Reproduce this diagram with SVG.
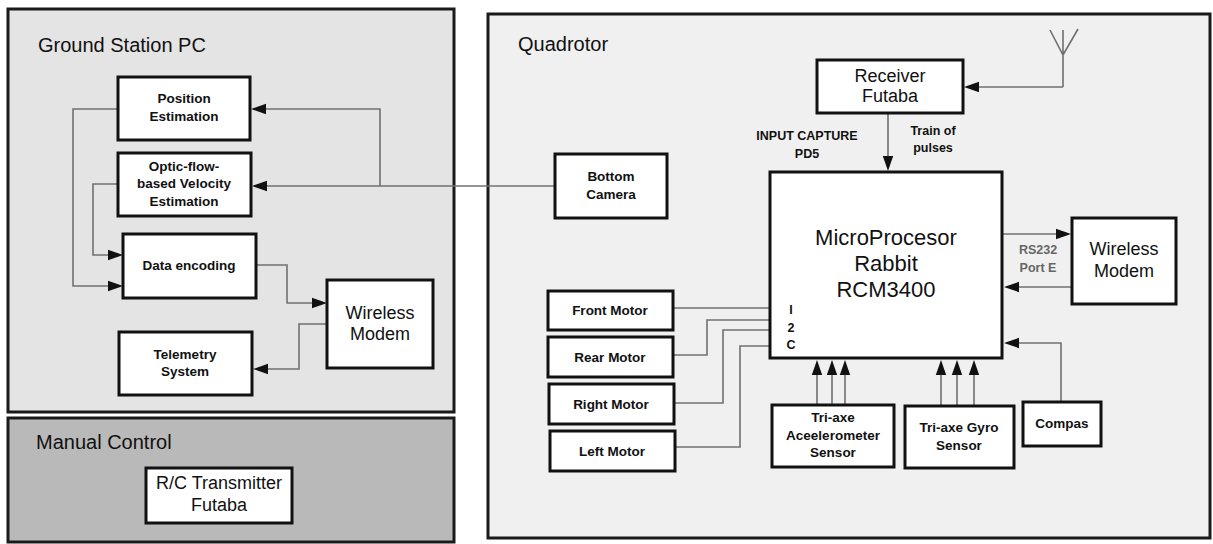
<svg xmlns="http://www.w3.org/2000/svg" width="1213" height="544" viewBox="0 0 1213 544">
<style>
.cont{stroke:#1a1a1a;stroke-width:3}
.box{fill:#fff;stroke:#111;stroke-width:3}
.t{font-family:"Liberation Sans",Arial,sans-serif;fill:#111;text-anchor:middle}
.title{font-family:"Liberation Sans",Arial,sans-serif;font-size:20px;fill:#111}
.b{font-weight:bold;font-size:13.5px}
.s{font-size:12.5px}
.n{font-size:18px}
.big{font-size:22px}
.gray{fill:#666}
.c{fill:none;stroke:#707070;stroke-width:1.6}
.ah{fill:#111}
</style>
<defs>
<path id="ah" class="ah" d="M0,0 L-15,-5.2 L-15,5.2 z"/>
</defs>

<g id="ground-station">
<rect class="cont" x="8" y="9" width="446" height="403" fill="#e4e4e4"/>
<text class="title" x="38" y="52">Ground Station PC</text>
</g>
<g id="manual-control">
<rect class="cont" x="8" y="418" width="446" height="124" fill="#b9b9b9"/>
<text class="title" x="36" y="449">Manual Control</text>
</g>
<g id="quadrotor">
<rect class="cont" x="488" y="14" width="722" height="524" fill="#f0f0f0"/>
<text class="title" x="518" y="51">Quadrotor</text>
</g>

<g id="connectors">
<path class="c" d="M555,186 H260"/>
<path class="c" d="M380,186 V109 H260"/>
<path class="c" d="M118,109 H73 V286 H115"/>
<path class="c" d="M118,184 H93 V255 H115"/>
<path class="c" d="M256,265 H287 V303 H318"/>
<path class="c" d="M327,324 H299 V369 H262"/>
<path class="c" d="M1050,30 L1063,55 L1078,29 M1063,30 V87"/>
<path class="c" d="M1063,87 H972"/>
<path class="c" d="M888,113 V162"/>
<path class="c" d="M1003,234 H1062"/>
<path class="c" d="M1072,287 H1012"/>
<path class="c" d="M1061,402 V343 H1012"/>
<path class="c" d="M941,406 V368"/>
<path class="c" d="M957,406 V368"/>
<path class="c" d="M974,406 V368"/>
<path class="c" d="M817,405 V368"/>
<path class="c" d="M832,405 V368"/>
<path class="c" d="M845,405 V368"/>
<path class="c" d="M673,308 H770"/>
<path class="c" d="M673,355 H707 V320 H770"/>
<path class="c" d="M674,403 H723 V330 H770"/>
<path class="c" d="M675,447 H740 V346 H770"/>
<use href="#ah" transform="translate(252,186) rotate(180)"/>
<use href="#ah" transform="translate(251,109) rotate(180)"/>
<use href="#ah" transform="translate(123,286)"/>
<use href="#ah" transform="translate(123,255)"/>
<use href="#ah" transform="translate(327,303)"/>
<use href="#ah" transform="translate(253,369) rotate(180)"/>
<use href="#ah" transform="translate(964,87) rotate(180)"/>
<use href="#ah" transform="translate(888,171) rotate(90)"/>
<use href="#ah" transform="translate(1071,234)"/>
<use href="#ah" transform="translate(1004,287) rotate(180)"/>
<use href="#ah" transform="translate(1004,343) rotate(180)"/>
<use href="#ah" transform="translate(941,360) rotate(-90)"/>
<use href="#ah" transform="translate(957,360) rotate(-90)"/>
<use href="#ah" transform="translate(974,360) rotate(-90)"/>
<use href="#ah" transform="translate(817,360) rotate(-90)"/>
<use href="#ah" transform="translate(832,360) rotate(-90)"/>
<use href="#ah" transform="translate(845,360) rotate(-90)"/>
</g>

<g id="position-estimation">
<rect class="box" x="118" y="77" width="132" height="63"/>
<text class="t b" x="184" y="103">Position</text>
<text class="t b" x="184" y="121">Estimation</text>
</g>
<g id="optic-flow">
<rect class="box" x="118" y="153" width="133" height="63"/>
<text class="t b" x="184" y="171">Optic-flow-</text>
<text class="t b" x="184" y="188">based Velocity</text>
<text class="t b" x="184" y="206">Estimation</text>
</g>
<g id="data-encoding">
<rect class="box" x="123" y="234" width="133" height="64"/>
<text class="t b" x="189" y="270">Data encoding</text>
</g>
<g id="telemetry">
<rect class="box" x="119" y="332" width="133" height="63"/>
<text class="t b" x="185" y="359">Telemetry</text>
<text class="t b" x="185" y="376">System</text>
</g>
<g id="wireless-modem-ground">
<rect class="box" x="327" y="280" width="106" height="88"/>
<text class="t n" x="380" y="319">Wireless</text>
<text class="t n" x="380" y="340">Modem</text>
</g>
<g id="rc-transmitter">
<rect class="box" x="146" y="468" width="146" height="55"/>
<text class="t n" x="219" y="489">R/C Transmitter</text>
<text class="t n" x="219" y="511">Futaba</text>
</g>

<g id="bottom-camera">
<rect class="box" x="555" y="154" width="112" height="64"/>
<text class="t b" x="611" y="181">Bottom</text>
<text class="t b" x="611" y="199">Camera</text>
</g>
<g id="receiver">
<rect class="box" x="817" y="60" width="146" height="53"/>
<text class="t n" x="890" y="82">Receiver</text>
<text class="t n" x="890" y="102">Futaba</text>
</g>
<g id="labels-receiver">
<text class="t b s" x="807" y="140">INPUT CAPTURE</text>
<text class="t b s" x="807" y="158">PD5</text>
<text class="t b s" x="933" y="135">Train of</text>
<text class="t b s" x="933" y="152">pulses</text>
</g>
<g id="microprocessor">
<rect class="box" x="770" y="172" width="232" height="186"/>
<text class="t big" x="886" y="245">MicroProcesor</text>
<text class="t big" x="886" y="271">Rabbit</text>
<text class="t big" x="886" y="297">RCM3400</text>
<text class="t b s" x="791" y="314">I</text>
<text class="t b s" x="791" y="332">2</text>
<text class="t b s" x="791" y="349">C</text>
</g>
<g id="rs232-label">
<text class="t b s gray" x="1038" y="254">RS232</text>
<text class="t b s gray" x="1038" y="272">Port E</text>
</g>
<g id="wireless-modem-quad">
<rect class="box" x="1072" y="218" width="104" height="86"/>
<text class="t n" x="1124" y="255">Wireless</text>
<text class="t n" x="1124" y="277">Modem</text>
</g>
<g id="front-motor">
<rect class="box" x="548" y="291" width="125" height="39"/>
<text class="t b" x="610" y="315">Front Motor</text>
</g>
<g id="rear-motor">
<rect class="box" x="548" y="337" width="125" height="40"/>
<text class="t b" x="610" y="362">Rear Motor</text>
</g>
<g id="right-motor">
<rect class="box" x="549" y="384" width="125" height="40"/>
<text class="t b" x="611" y="409">Right Motor</text>
</g>
<g id="left-motor">
<rect class="box" x="550" y="431" width="125" height="40"/>
<text class="t b" x="612" y="456">Left Motor</text>
</g>
<g id="accelerometer">
<rect class="box" x="772" y="405" width="122" height="62"/>
<text class="t b" x="833" y="422">Tri-axe</text>
<text class="t b" x="833" y="440">Aceelerometer</text>
<text class="t b" x="833" y="457">Sensor</text>
</g>
<g id="gyro">
<rect class="box" x="905" y="406" width="109" height="62"/>
<text class="t b" x="959" y="432">Tri-axe Gyro</text>
<text class="t b" x="959" y="450">Sensor</text>
</g>
<g id="compas">
<rect class="box" x="1023" y="402" width="78" height="44"/>
<text class="t b" x="1062" y="428">Compas</text>
</g>
</svg>
